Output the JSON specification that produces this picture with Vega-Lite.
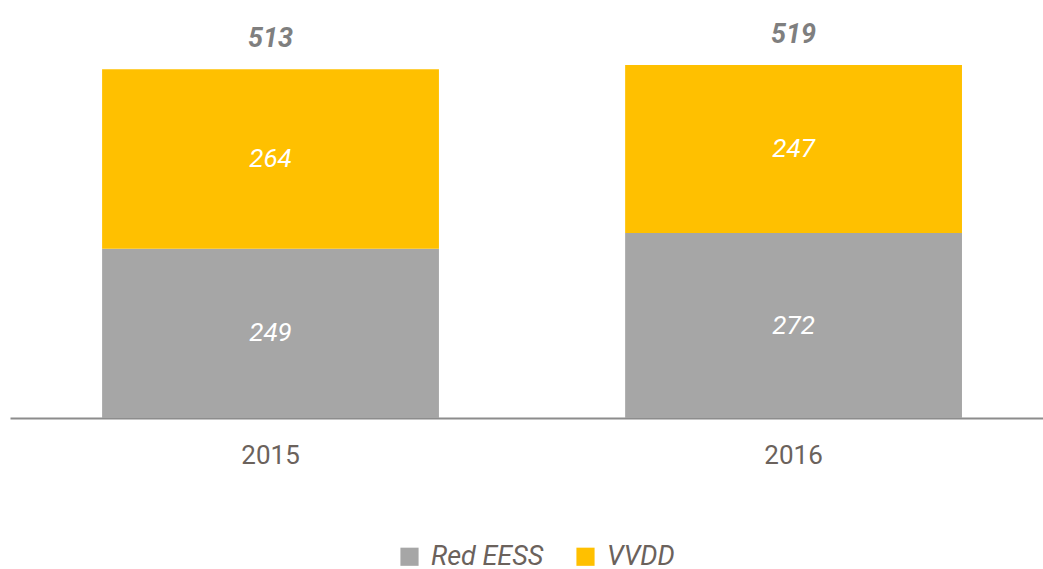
{
  "$schema": "https://vega.github.io/schema/vega-lite/v6.json",
  "width": 1033,
  "height": 408,
  "padding": {"left": 10, "top": 10, "right": 0, "bottom": 0},
  "background": "white",
  "config": {
    "view": {"stroke": null},
    "font": "Roboto"
  },
  "datasets": {
    "bars": [
      {"anio": "2015", "serie": "Red EESS", "orden": 1, "valor": 249},
      {"anio": "2015", "serie": "VVDD", "orden": 2, "valor": 264},
      {"anio": "2016", "serie": "Red EESS", "orden": 1, "valor": 272},
      {"anio": "2016", "serie": "VVDD", "orden": 2, "valor": 247}
    ],
    "totales": [
      {"anio": "2015", "total": 513},
      {"anio": "2016", "total": 519}
    ]
  },
  "encoding": {
    "x": {
      "field": "anio",
      "type": "nominal",
      "scale": {"paddingInner": 0.356, "paddingOuter": 0.1655, "align": 0.532},
      "axis": {
        "title": null,
        "labelAngle": 0,
        "labelFontSize": 26,
        "labelColor": "#6b625c",
        "labelPadding": 24,
        "ticks": false,
        "domainColor": "#8c8c8c",
        "domainWidth": 2,
        "grid": false
      }
    }
  },
  "layer": [
    {
      "data": {"name": "bars"},
      "mark": {"type": "bar"},
      "encoding": {
        "y": {
          "field": "valor",
          "type": "quantitative",
          "stack": "zero",
          "scale": {"domain": [0, 600]},
          "axis": null
        },
        "order": {"field": "orden", "type": "quantitative"},
        "color": {
          "field": "serie",
          "type": "nominal",
          "scale": {"domain": ["Red EESS", "VVDD"], "range": ["#a6a6a6", "#ffc000"]},
          "legend": {
            "title": null,
            "orient": "none",
            "direction": "horizontal",
            "legendX": 386,
            "legendY": 533,
            "symbolType": "square",
            "symbolSize": 330,
            "symbolStrokeWidth": 0,
            "labelFontSize": 27,
            "labelFontStyle": "italic",
            "labelColor": "#6b625c",
            "labelLimit": 400,
            "columnPadding": 28,
            "labelOffset": 8
          }
        }
      }
    },
    {
      "data": {"name": "bars"},
      "transform": [
        {"stack": "valor", "groupby": ["anio"], "sort": [{"field": "orden"}], "as": ["v0", "v1"]},
        {"calculate": "(datum.v0 + datum.v1) / 2", "as": "medio"}
      ],
      "mark": {"type": "text", "fontSize": 26, "fontStyle": "italic", "color": "white", "baseline": "middle"},
      "encoding": {
        "y": {"field": "medio", "type": "quantitative"},
        "text": {"field": "valor", "type": "quantitative"}
      }
    },
    {
      "data": {"name": "totales"},
      "mark": {"type": "text", "fontSize": 27, "fontStyle": "italic", "fontWeight": "bold", "color": "#7f7f7f", "baseline": "bottom", "dy": -16},
      "encoding": {
        "y": {"field": "total", "type": "quantitative"},
        "text": {"field": "total", "type": "quantitative"}
      }
    }
  ]
}
